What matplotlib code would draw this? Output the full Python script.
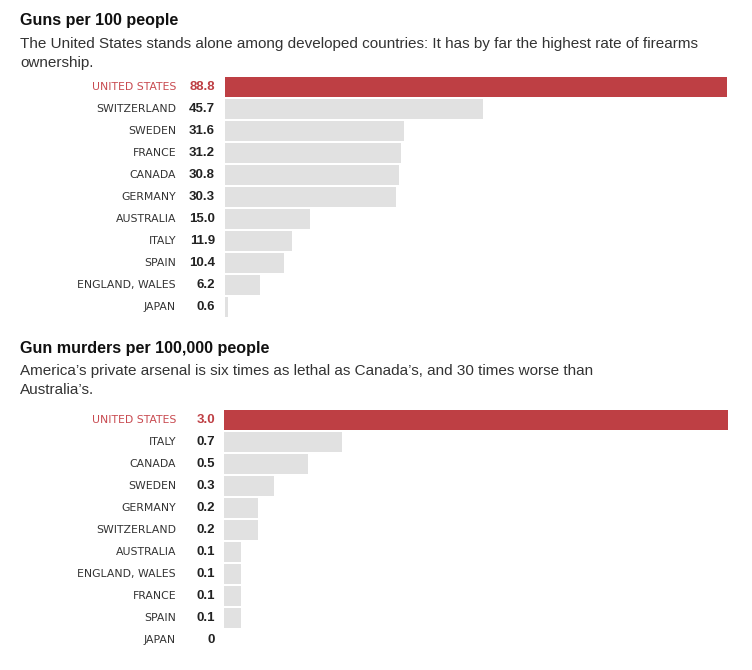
import matplotlib.pyplot as plt

plt.rcParams['font.family'] = ['Liberation Sans', 'DejaVu Sans']

# --- data ---
guns_countries = ['UNITED STATES', 'SWITZERLAND', 'SWEDEN', 'FRANCE', 'CANADA', 'GERMANY',
                  'AUSTRALIA', 'ITALY', 'SPAIN', 'ENGLAND, WALES', 'JAPAN']
guns_values = [88.8, 45.7, 31.6, 31.2, 30.8, 30.3, 15.0, 11.9, 10.4, 6.2, 0.6]
guns_labels = ['88.8', '45.7', '31.6', '31.2', '30.8', '30.3', '15.0', '11.9', '10.4', '6.2', '0.6']

murder_countries = ['UNITED STATES', 'ITALY', 'CANADA', 'SWEDEN', 'GERMANY', 'SWITZERLAND',
                    'AUSTRALIA', 'ENGLAND, WALES', 'FRANCE', 'SPAIN', 'JAPAN']
murder_values = [3.0, 0.7, 0.5, 0.3, 0.2, 0.2, 0.1, 0.1, 0.1, 0.1, 0.0]
murder_labels = ['3.0', '0.7', '0.5', '0.3', '0.2', '0.2', '0.1', '0.1', '0.1', '0.1', '0']

RED = '#be3f44'
GREY = '#e1e1e1'
W, H = 752, 670

fig = plt.figure(figsize=(W / 100, H / 100), dpi=100)


def fx(x):
    return x / W


def fy(y):
    return 1 - y / H


def panel(top, left, right, countries, values, labels, title, sub):
    title_y, sub_y, bar_top = top
    fig.text(fx(20), fy(title_y), title, fontsize=11.6, fontweight='bold', va='center', color='#111')
    fig.text(fx(20), fy(sub_y), sub, fontsize=11, va='top', color='#333', linespacing=1.45)
    n = len(values)
    pitch = 22
    ax = fig.add_axes([fx(left), fy(bar_top + n * pitch), fx(right - left), n * pitch / H])
    colors = [RED] + [GREY] * (n - 1)
    ax.barh(range(n), values, height=0.87, color=colors)
    ax.set_ylim(n - 0.5, -0.5)
    ax.set_xlim(0, max(values))
    ax.axis('off')
    for i, (c, lab) in enumerate(zip(countries, labels)):
        y = fy(bar_top + pitch * (i + 0.5))
        col = RED if i == 0 else '#222'
        fig.text(fx(176), y, c, ha='right', va='center', fontsize=7.8, family='DejaVu Sans',
                 color='#c84a50' if i == 0 else '#333')
        fig.text(fx(215), y, lab, ha='right', va='center', fontsize=9.5, fontweight='bold', color=col)


panel((20, 37, 76), 225, 727, guns_countries, guns_values, guns_labels,
      'Guns per 100 people',
      'The United States stands alone among developed countries: It has by far the highest rate of firearms\nownership.')
panel((348, 364, 409), 224, 728, murder_countries, murder_values, murder_labels,
      'Gun murders per 100,000 people',
      'America\u2019s private arsenal is six times as lethal as Canada\u2019s, and 30 times worse than\nAustralia\u2019s.')

fig.savefig('out.png', dpi=100, facecolor='white')
